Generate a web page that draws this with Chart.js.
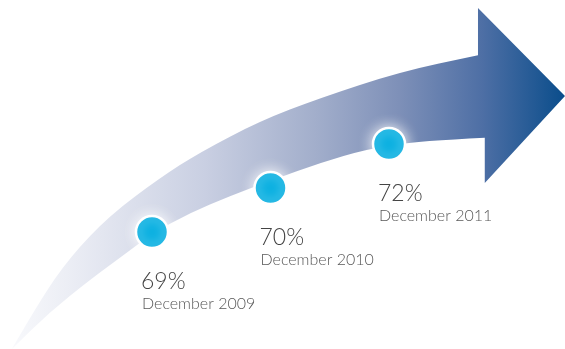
<!DOCTYPE html>
<html>
<head>
<meta charset="utf-8">
<title>Share growth</title>
<script src="https://cdn.jsdelivr.net/npm/chart.js@4.4.1/dist/chart.umd.min.js"></script>
<style>
    html, body {
        margin: 0;
        padding: 0;
        background: #ffffff;
    }

    .chart-box {
        position: relative;
        width: 565px;
        height: 349px;
    }
</style>
</head>
<body>

<div class="chart-box">
    <canvas id="growthChart"></canvas>
</div>

<script>
/* ==========================================
   DATA
========================================== */

const periods = ["December 2009", "December 2010", "December 2011"];

const shareValues = [69, 70, 72];

// y tick labels, one per value
const shareLabels = shareValues.map(v => v + "%");


/* ==========================================
   ARROW BACKGROUND
========================================== */

// outline of the sweeping arrow, as fractions of the canvas
const arrowUpper = [
    [0.021, 1.000], [0.071, 0.860], [0.124, 0.736], [0.195, 0.616],
    [0.283, 0.510], [0.354, 0.436], [0.460, 0.347], [0.566, 0.281],
    [0.708, 0.206], [0.846, 0.158]
];

const arrowLower = [
    [0.858, 0.395], [0.743, 0.404], [0.650, 0.427], [0.566, 0.467],
    [0.487, 0.513], [0.407, 0.562], [0.336, 0.610], [0.269, 0.670],
    [0.221, 0.728], [0.159, 0.802], [0.088, 0.894], [0.021, 1.000]
];

function smoothPath(ctx, pts, w, h, moveFirst) {

    const p = pts.map(pt => [pt[0] * w, pt[1] * h]);

    if (moveFirst) {
        ctx.moveTo(p[0][0], p[0][1]);
    } else {
        ctx.lineTo(p[0][0], p[0][1]);
    }

    for (let i = 1; i < p.length - 1; i++) {
        const mx = (p[i][0] + p[i + 1][0]) / 2;
        const my = (p[i][1] + p[i + 1][1]) / 2;
        ctx.quadraticCurveTo(p[i][0], p[i][1], mx, my);
    }

    const last = p[p.length - 1];
    ctx.lineTo(last[0], last[1]);
}

const arrowPlugin = {

    id: "arrowBackground",

    beforeDatasetsDraw(chart) {

        const ctx = chart.ctx;
        const w = chart.width;
        const h = chart.height;

        const grad = ctx.createLinearGradient(0.02 * w, 0, w, 0);
        grad.addColorStop(0.00, "rgba(248,249,252,1)");
        grad.addColorStop(0.10, "#eceef5");
        grad.addColorStop(0.35, "#c9cfe2");
        grad.addColorStop(0.55, "#a2aecb");
        grad.addColorStop(0.70, "#7e90b8");
        grad.addColorStop(0.85, "#4e6fa5");
        grad.addColorStop(1.00, "#0a4d8b");

        ctx.save();
        ctx.beginPath();

        smoothPath(ctx, arrowUpper, w, h, true);

        // arrow head
        ctx.lineTo(0.846 * w, 0.023 * h);
        ctx.lineTo(1.000 * w, 0.275 * h);
        ctx.lineTo(0.858 * w, 0.524 * h);

        smoothPath(ctx, arrowLower, w, h, false);

        ctx.closePath();
        ctx.fillStyle = grad;
        ctx.fill();
        ctx.restore();
    },

    beforeDatasetDraw(chart) {
        // soft white halo around the markers
        const ctx = chart.ctx;
        ctx.save();
        ctx.shadowColor = "rgba(255,255,255,0.95)";
        ctx.shadowBlur = 14;
    },

    afterDatasetDraw(chart) {
        chart.ctx.restore();
    }
};


/* ==========================================
   POINT LABELS
========================================== */

const labelPlugin = {

    id: "pointLabels",

    afterDatasetsDraw(chart) {

        const ctx = chart.ctx;
        const points = chart.getDatasetMeta(0).data;

        ctx.save();
        ctx.textAlign = "left";
        ctx.textBaseline = "alphabetic";

        points.forEach((pt, i) => {

            ctx.fillStyle = "#444444";
            ctx.font = "300 23px Lato, 'Open Sans', sans-serif";
            ctx.fillText(shareLabels[i], pt.x - 11, pt.y + 57);

            ctx.fillStyle = "#585858";
            ctx.font = "300 16px Lato, 'Open Sans', sans-serif";
            ctx.fillText(periods[i], pt.x - 10, pt.y + 77);

        });

        ctx.restore();
    }
};


/* ==========================================
   CHART
========================================== */

const ctx = document.getElementById("growthChart");

new Chart(ctx, {

    type: "line",

    data: {

        labels: periods,

        datasets: [{

            label: "Share",

            data: shareLabels,

            showLine: false,

            clip: false,

            pointRadius: 16,

            pointHoverRadius: 16,

            pointBackgroundColor: "#00ade0",

            pointBorderColor: "#ffffff",

            pointBorderWidth: 2.5

        }]
    },

    options: {

        responsive: true,

        maintainAspectRatio: false,

        animation: false,

        events: [],

        layout: {
            padding: {
                left: 152,
                right: 176,
                top: 144,
                bottom: 117
            }
        },

        plugins: {
            legend: { display: false },
            tooltip: { enabled: false }
        },

        scales: {

            x: {
                type: "category",
                display: false
            },

            y: {
                type: "category",
                labels: shareLabels,
                reverse: true,
                display: false
            }

        }

    },

    plugins: [arrowPlugin, labelPlugin]

});
</script>

</body>
</html>
